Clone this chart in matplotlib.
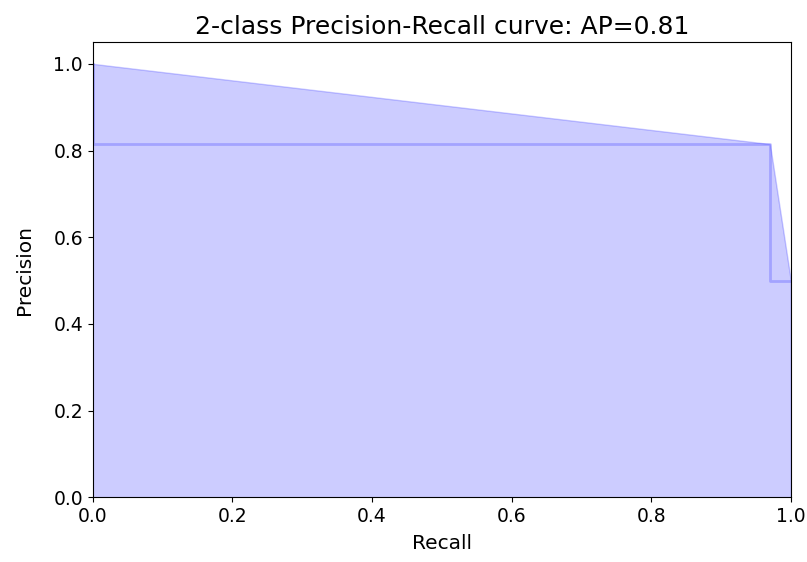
import matplotlib
matplotlib.use("Agg")
import matplotlib.pyplot as plt

# precision/recall points as returned by precision_recall_curve
precision = [0.5, 0.815, 1.0]
recall = [1.0, 0.97, 0.0]
average_precision = 0.81

plt.rcParams['font.size'] = 13.5

fig = plt.figure(figsize=(8.07, 5.62), dpi=100)
fig.subplots_adjust(left=0.115, right=0.98, top=0.925, bottom=0.115)

plt.step(recall, precision, color='b', alpha=0.2, where='post', linewidth=2)
plt.fill_between(recall, precision, alpha=0.2, color='b')

plt.xlabel('Recall', fontsize=14.5, labelpad=6)
plt.ylabel('Precision', fontsize=14.5, labelpad=14)
plt.ylim([0.0, 1.05])
plt.xlim([0.0, 1.0])
plt.title('2-class Precision-Recall curve: AP={0:0.2f}'.format(average_precision), fontsize=18)

plt.savefig('out.png', dpi=100)
